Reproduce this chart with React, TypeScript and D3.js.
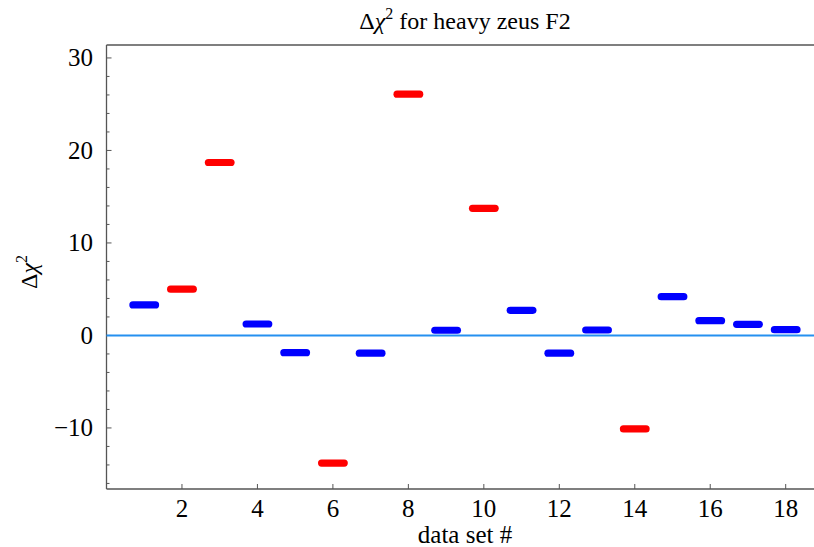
import React from "react";
import * as d3 from "d3";

const dataSets = [1, 2, 3, 4, 5, 6, 7, 8, 9, 10, 11, 12, 13, 14, 15, 16, 17, 18];
const deltaChi2 = [3.3, 5.0, 18.7, 1.24, -1.86, -13.8, -1.92, 26.08, 0.56, 13.74, 2.72, -1.92, 0.59, -10.1, 4.19, 1.6, 1.2, 0.62];
const highlighted = [false, true, true, false, false, true, false, true, false, true, false, false, false, true, false, false, false, false];
const xTicks = [2, 4, 6, 8, 10, 12, 14, 16, 18];
const yMajorTicks = [-10, 0, 10, 20, 30];
const yMinorTicks = d3.range(-16, 32, 2).filter((v) => v % 10 !== 0);

const W = 814;
const H = 547;
const left = 106.5;
const right = 814;
const top = 45;
const bottom = 489;

export default function App() {
  const x = d3.scaleLinear().domain([0, 18.75]).range([left, right]);
  const y = d3.scaleLinear().domain([-16.6, 31.4]).range([bottom, top]);
  const font = "'Liberation Serif', 'Times New Roman', serif";
  const axisColor = "#555";
  return (
    <svg width={W} height={H} style={{ position: "absolute", left: 0, top: 0, background: "#fff" }}>
      <line x1={left} x2={left} y1={top} y2={bottom} stroke={axisColor} strokeWidth={1.3} />
      <line x1={left} x2={right + 2} y1={bottom} y2={bottom} stroke={axisColor} strokeWidth={1.3} />
      <line x1={left} x2={right + 2} y1={top} y2={top} stroke={axisColor} strokeWidth={1.3} />
      {yMajorTicks.map((t) => (
        <g key={"ym" + t}>
          <line x1={left} x2={left + 5} y1={y(t)} y2={y(t)} stroke={axisColor} strokeWidth={1} />
          <text x={93} y={y(t) + 8.5} textAnchor="end" fontFamily={font} fontSize={25} fill="#000">
            {t < 0 ? "\u2212" + Math.abs(t) : t}
          </text>
        </g>
      ))}
      {yMinorTicks.map((t) => (
        <line key={"yn" + t} x1={left} x2={left + 3} y1={y(t)} y2={y(t)} stroke={axisColor} strokeWidth={1} />
      ))}
      {xTicks.map((t) => (
        <g key={"x" + t}>
          <line x1={x(t)} x2={x(t)} y1={bottom} y2={bottom - 5} stroke={axisColor} strokeWidth={1} />
          <text x={x(t)} y={516.5} textAnchor="middle" fontFamily={font} fontSize={25} fill="#000">
            {t}
          </text>
        </g>
      ))}
      <line x1={left} x2={right} y1={y(0)} y2={y(0)} stroke="#2590F0" strokeWidth={2} />
      {dataSets.map((d, i) => (
        <line
          key={"b" + d}
          x1={x(d - 0.3)}
          x2={x(d + 0.3)}
          y1={y(deltaChi2[i])}
          y2={y(deltaChi2[i])}
          stroke={highlighted[i] ? "#FF0000" : "#0000FF"}
          strokeWidth={7.2}
          strokeLinecap="round"
        />
      ))}
      <text x={465} y={29} textAnchor="middle" fontFamily={font} fontSize={24} fill="#000">
        <tspan>Δ</tspan>
        <tspan fontStyle="italic">χ</tspan>
        <tspan dy={-10} fontSize={16}>2</tspan>
        <tspan dy={10}> for heavy zeus F2</tspan>
      </text>
      <text x={465} y={543} textAnchor="middle" fontFamily={font} fontSize={25} fill="#000">
        data set #
      </text>
      <text
        transform={`translate(37, 272) rotate(-90)`}
        textAnchor="middle"
        fontFamily={font}
        fontSize={24}
        fill="#000"
      >
        <tspan>Δ</tspan>
        <tspan fontStyle="italic">χ</tspan>
        <tspan dy={-10} fontSize={16}>2</tspan>
      </text>
    </svg>
  );
}
